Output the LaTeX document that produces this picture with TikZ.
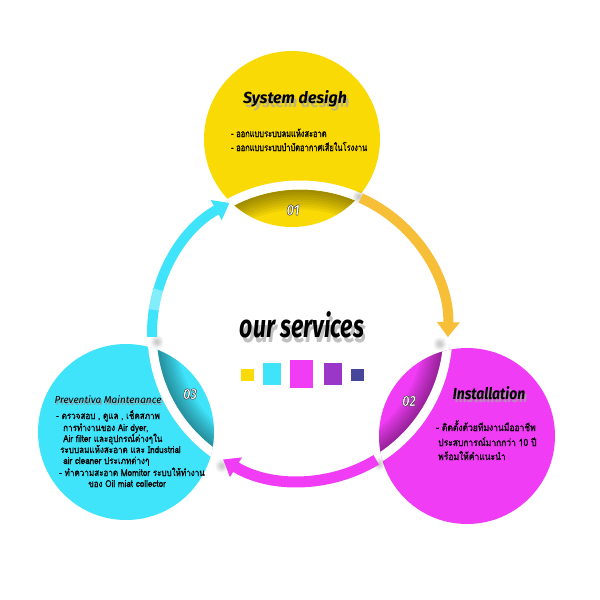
\documentclass[tikz,border=0pt]{standalone}
\usepackage{fontspec}
\usetikzlibrary{arrows.meta,calc}
\newfontfamily\thai[Script=Thai,FakeStretch=0.85,FakeBold=0.8]{Loma}
\newfontfamily\ttl{Fira Sans}
\definecolor{cyel}{RGB}{250,218,5}
\definecolor{ccyan}{RGB}{64,228,250}
\definecolor{cmag}{RGB}{240,60,245}
\definecolor{corg}{RGB}{247,190,55}
\definecolor{cpur}{RGB}{155,55,200}
\definecolor{cnavy}{RGB}{70,70,155}
\tikzset{
  bigcirc/.style={circle, minimum size=176pt, inner sep=0pt},
  band/.style={line width=10pt},
  tip/.style={-{Triangle[width=22pt,length=15pt]}},
  thaitxt/.style={font=\thai\fontsize{10}{14}\selectfont, inner sep=0pt, anchor=base west, text=black},
  thaism/.style={font=\thai\fontsize{9.5}{11}\selectfont, inner sep=0pt, anchor=base west, text=black},
  numf/.style={font=\ttl\itshape\bfseries\fontsize{15}{15}\selectfont, inner sep=0pt, xscale=0.85},
  ttlf/.style={font=\ttl\itshape\bfseries\fontsize{16}{16}\selectfont, inner sep=0pt},
  sq/.style={inner sep=0pt, draw=none}
}
% outlined text: fill+stroke rendering mode
\newcommand\outlined[1]{\special{pdf:code q 2 Tr 0.45 w 0.2 0.2 0.2 RG}#1\special{pdf:code Q}}
\newcommand\numlabel[3]{%
  \node[numf, text=white] (#1) at (#2) {\outlined{#3}};}
\newcommand\shadowtitle[4]{% name, pos, style, text
  \node[#3, text=black!35, opacity=0.7, shift={(2.5,-3.5)}] at (#2) {#4};
  \node[#3, text=black] (#1) at (#2) {#4};}
\newcommand\smudge[1]{%
  \foreach \r in {2,3.5,5,6.5}{\fill[black, opacity=0.05] (#1) circle (\r);}}
\begin{document}
\begin{tikzpicture}[x=1pt,y=1pt]
\useasboundingbox (0,0) rectangle (600,-600);
\fill[white] (0,0) rectangle (600,-600);
\coordinate (C) at (300,-333);

% circles
\node[bigcirc, fill=cyel] (Y) at (292,-139) {};
\node[bigcirc, fill=cmag] (M) at (467,-436) {};
\node[bigcirc, fill=ccyan] (K) at (126,-432) {};

% ring inside circles
\foreach \cc in {Y, M, K}{
  \begin{scope}
    \clip (\cc.center) circle (88);
    \foreach \w in {2.5,5,...,20}{\draw[black, opacity=0.05, line width=\w pt] (C) circle ({143.5-\w/2});}
    \draw[white, line width=9pt] (C) circle (148);
  \end{scope}
}

% smudges
\smudge{157,-342}
\smudge{359,-197}
\smudge{440,-344}
\smudge{379,-464}
\smudge{222,-466}

% connectors
\draw[ccyan, band, tip] (C) ++(181.5:148) arc[start angle=181.5, end angle=118.5, radius=148];
\draw[white, opacity=0.35, line width=10pt] (C) ++(171:148) arc[start angle=171, end angle=163, radius=148];
\draw[corg, band, tip] (C) ++(65.7:148) arc[start angle=65.7, end angle=-1.6, radius=148];
\draw[cmag, line width=11pt, tip] (C) ++(-59:148) arc[start angle=-59, end angle=-121.3, radius=148];

% numbers
\numlabel{n1}{293,-210}{01}
\numlabel{n2}{409,-401}{02}
\numlabel{n3}{190,-394}{03}

% titles
\shadowtitle{yt}{295,-99}{ttlf}{System desigh}
\shadowtitle{mt}{489,-393}{ttlf, xscale=0.87}{Installation}
\node[font=\fontsize{32}{32}\selectfont\ttl\itshape\bfseries, text=black!35, opacity=0.7, xscale=0.72, shift={(3,-5)}] at (302,-325) {our services};
\node[font=\fontsize{32}{32}\selectfont\ttl\itshape\bfseries, text=black, xscale=0.72] (os) at (302,-325) {our services};
\node[font=\ttl\itshape\fontsize{10}{10}\selectfont, text=black!40, shift={(1.5,-2)}, inner sep=0pt] at (108,-400) {Preventiva Maintenance};
\node[font=\ttl\itshape\fontsize{10}{10}\selectfont, text=black, inner sep=0pt] (kt) at (108,-400) {Preventiva Maintenance};

% yellow text
\node[thaitxt, xscale=0.88] (y1) at (231,-137) {- ออกแบบระบบลมแห้งสะอาด};
\node[thaitxt, xscale=0.88] (y2) at (231,-151) {- ออกแบบระบบบำบัดอากาศเสียในโรงงาน};

% magenta text
\node[thaitxt] (m1) at (436,-431) {- ติดตั้งด้วยทีมงานมืออาชีพ};
\node[thaitxt] (m2) at (438,-446) {ประสบการณ์มากกว่า 10 ปี};
\node[thaitxt] (m3) at (438,-460) {พร้อมให้คำแนะนำ};

% cyan text
\node[thaism] (k1) at (56,-419) {- ตรวจสอบ , ดูแล , เช็คสภาพ};
\node[thaism] (k2) at (63,-431) {การทำงานของ Air dyer,};
\node[thaism] (k3) at (63,-442) {Air filter และอุปกรณ์ต่างๆใน};
\node[thaism] (k4) at (60,-453) {ระบบลมแห้งสะอาด และ Industrial};
\node[thaism] (k5) at (63,-464) {air cleaner ประเภทต่างๆ};
\node[thaism] (k6) at (59,-476) {- ทำความสะอาด Momitor ระบบให้ทำงาน};
\node[thaism] (k7) at (88,-487) {ของ Oil miat collector};

% squares
\node[sq, fill=cyel, minimum width=13pt, minimum height=12pt] (s1) at (247.5,-375) {};
\node[sq, fill=ccyan, minimum width=18pt, minimum height=22pt] (s2) at (272,-374) {};
\node[sq, fill=cmag, minimum width=23pt, minimum height=28pt] (s3) at (301.5,-374) {};
\node[sq, fill=cpur, minimum width=18pt, minimum height=22pt] (s4) at (333,-374) {};
\node[sq, fill=cnavy, minimum width=13pt, minimum height=12pt] (s5) at (357.5,-375) {};
\end{tikzpicture}
\end{document}
